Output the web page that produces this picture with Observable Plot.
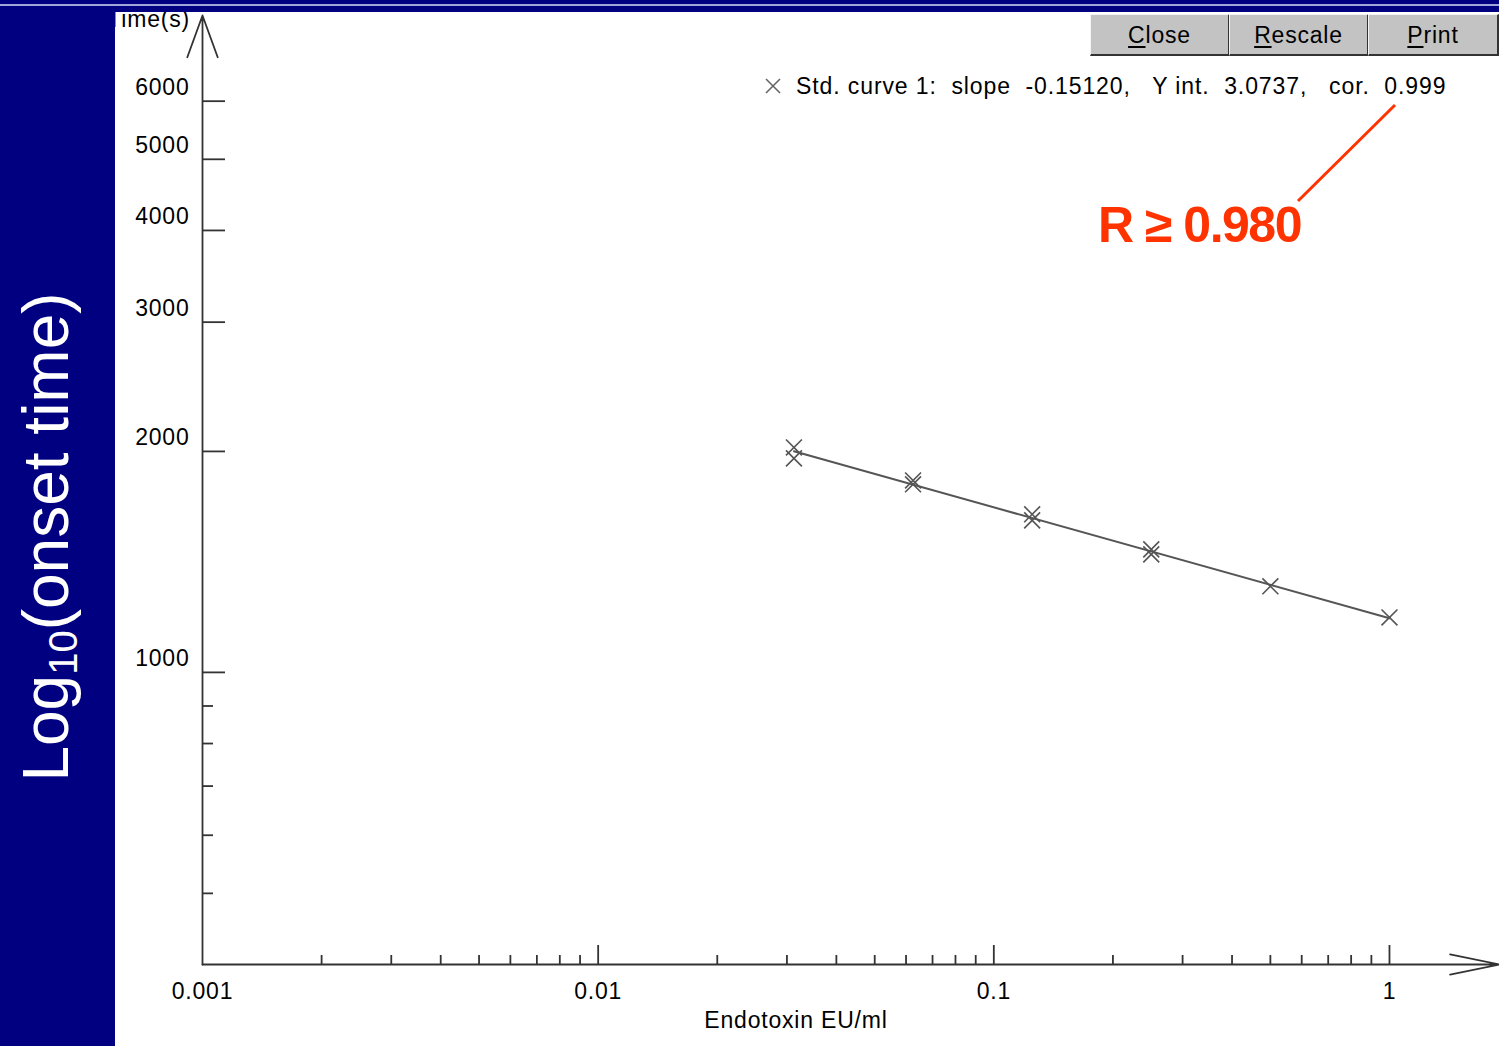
<!DOCTYPE html>
<html>
<head>
<meta charset="utf-8">
<script src="https://cdn.jsdelivr.net/npm/d3@7"></script>
<script src="https://cdn.jsdelivr.net/npm/@observablehq/plot@0.6"></script>
<style>
html, body { margin: 0; padding: 0; background: #fff; }
#wrap { position: relative; width: 1499px; height: 1046px; overflow: hidden; font-family: "Liberation Sans", Arial, sans-serif; }
#chart { position: absolute; left: 0; top: 0; }
#deco { position: absolute; left: 0; top: 0; pointer-events: none; }
.btn { position: absolute; top: 14px; height: 42px; background: #c3c3c3; box-sizing: border-box;
  border-top: 1px solid #f4f4f4; border-left: 1px solid #f4f4f4; border-right: 2px solid #333; border-bottom: 2px solid #333;
  text-align: center; line-height: 40px; font-size: 23px; letter-spacing: 0.8px; color: #000; font-family: "Liberation Sans", Arial, sans-serif; }
.btn u { text-decoration: underline; text-underline-offset: 3px; }
</style>
</head>
<body>
<div id="wrap">
  <div id="chart"></div>
  <svg id="deco" width="1499" height="1046" xmlns="http://www.w3.org/2000/svg" font-family="Liberation Sans, Arial, sans-serif">
    <text x="190" y="27" text-anchor="end" font-size="23" fill="#000" style="letter-spacing:0.8px">Time(s)</text>
    <rect x="0" y="0" width="115" height="1046" fill="#000080"/>
    <rect x="0" y="0" width="1499" height="12" fill="#000080"/>
    <rect x="0" y="4" width="1499" height="2" fill="#a0a6dc"/>
    <text transform="translate(68,537) rotate(-90)" text-anchor="middle" fill="#ffffff" font-size="64">Log<tspan font-size="40" dy="9">10</tspan><tspan dy="-9">(onset time)</tspan></text>
    <g stroke="#666" stroke-width="1.6">
      <line x1="766" y1="79" x2="780" y2="93"/>
      <line x1="766" y1="93" x2="780" y2="79"/>
    </g>
    <text x="796" y="94" font-size="23" fill="#000" style="white-space:pre; letter-spacing:0.9px">Std. curve 1:  slope  -0.15120,   Y int.  3.0737,   cor.  0.999</text>
    <line x1="1298" y1="201" x2="1395" y2="105" stroke="#ff3300" stroke-width="3"/>
    <text x="1098" y="242" font-size="50" font-weight="bold" fill="#ff3300" style="letter-spacing:-1.5px">R ≥ 0.980</text>
  </svg>
  <div class="btn" style="left:1090px;width:140px;"><u>C</u>lose</div>
  <div class="btn" style="left:1229px;width:140px;"><u>R</u>escale</div>
  <div class="btn" style="left:1368px;width:131px;"><u>P</u>rint</div>
</div>
<script>
// ---- data ----
const concentration = [0.03125, 0.03125, 0.0625, 0.0625, 0.125, 0.125, 0.25, 0.25, 0.5, 1];
const onsetTime     = [2025, 1957, 1826, 1804, 1642, 1611, 1471, 1448, 1310, 1188];
const fitConcentration = [0.03125, 1];
const fitOnsetTime     = [2001, 1185];
const xDomain = [0.001, 1.897];
const yDomain = [400, 7850];
const xMajorTicks = [0.001, 0.01, 0.1, 1];
const xTickMarks  = [0.01, 0.1, 1];
const xMinorTicks = [0.002, 0.003, 0.004, 0.005, 0.006, 0.007, 0.008, 0.009,
                     0.02, 0.03, 0.04, 0.05, 0.06, 0.07, 0.08, 0.09,
                     0.2, 0.3, 0.4, 0.5, 0.6, 0.7, 0.8, 0.9];
const yMajorTicks = [1000, 2000, 3000, 4000, 5000, 6000];
const yMinorTicks = [500, 600, 700, 800, 900];
const xTitle = "Endotoxin EU/ml";

const points = concentration.map((c, i) => ({x: c, y: onsetTime[i]}));
const fit = fitConcentration.map((c, i) => ({x: c, y: fitOnsetTime[i]}));
const yAxisLine = [{x1: xDomain[0], y1: yDomain[0], x2: xDomain[0], y2: yDomain[1]}];
const xAxisLine = [{x1: xDomain[0], y1: yDomain[0], x2: xDomain[1], y2: yDomain[0]}];

const axisColor = "#333";
const chart = Plot.plot({
  width: 1499,
  height: 1046,
  marginLeft: 202,
  marginRight: 0,
  marginTop: 15,
  marginBottom: 82,
  x: {type: "log", domain: xDomain},
  y: {type: "log", domain: yDomain},
  style: "background:#fff; font-family:'Liberation Sans', Arial, sans-serif; font-size:23px; letter-spacing:0.8px; color:#000; overflow:visible;",
  marks: [
    // tick marks (drawn inward from the axes)
    Plot.axisY(yMajorTicks, {anchor: "left", tickSize: 23, dx: 23, tickFormat: () => "", fill: "none", stroke: axisColor, strokeWidth: 1.8, label: null}),
    Plot.axisY(yMinorTicks, {anchor: "left", tickSize: 11, dx: 11, tickFormat: () => "", fill: "none", stroke: axisColor, strokeWidth: 1.8, label: null}),
    Plot.axisX(xTickMarks, {anchor: "bottom", tickSize: 19, dy: -19, tickFormat: () => "", fill: "none", stroke: axisColor, strokeWidth: 1.8, label: null}),
    Plot.axisX(xMinorTicks, {anchor: "bottom", tickSize: 9, dy: -9, tickFormat: () => "", fill: "none", stroke: axisColor, strokeWidth: 1.8, label: null}),
    // tick labels
    Plot.axisY(yMajorTicks, {anchor: "left", tickSize: 0, tickPadding: 13, dy: -14, tickFormat: d => String(d), fill: "#000", label: null}),
    Plot.axisX(xMajorTicks, {anchor: "bottom", tickSize: 0, tickPadding: 18, tickFormat: d => String(d), fill: "#000", label: null}),
    Plot.text([xTitle], {frameAnchor: "bottom", dx: -55, dy: 63, text: d => d, fill: "#000", fontSize: 23}),
    // axes with arrowheads
    Plot.arrow(yAxisLine, {x1: "x1", y1: "y1", x2: "x2", y2: "y2", stroke: axisColor, strokeWidth: 1.8, headLength: 37, headAngle: 40}),
    Plot.arrow(xAxisLine, {x1: "x1", y1: "y1", x2: "x2", y2: "y2", stroke: axisColor, strokeWidth: 1.8, headLength: 42, headAngle: 23}),
    // data
    Plot.line(fit, {x: "x", y: "y", stroke: "#555", strokeWidth: 2}),
    Plot.dot(points, {x: "x", y: "y", symbol: "times", r: 7.3, stroke: "#555", strokeWidth: 1.6})
  ]
});
document.getElementById("chart").appendChild(chart);
</script>
</body>
</html>
